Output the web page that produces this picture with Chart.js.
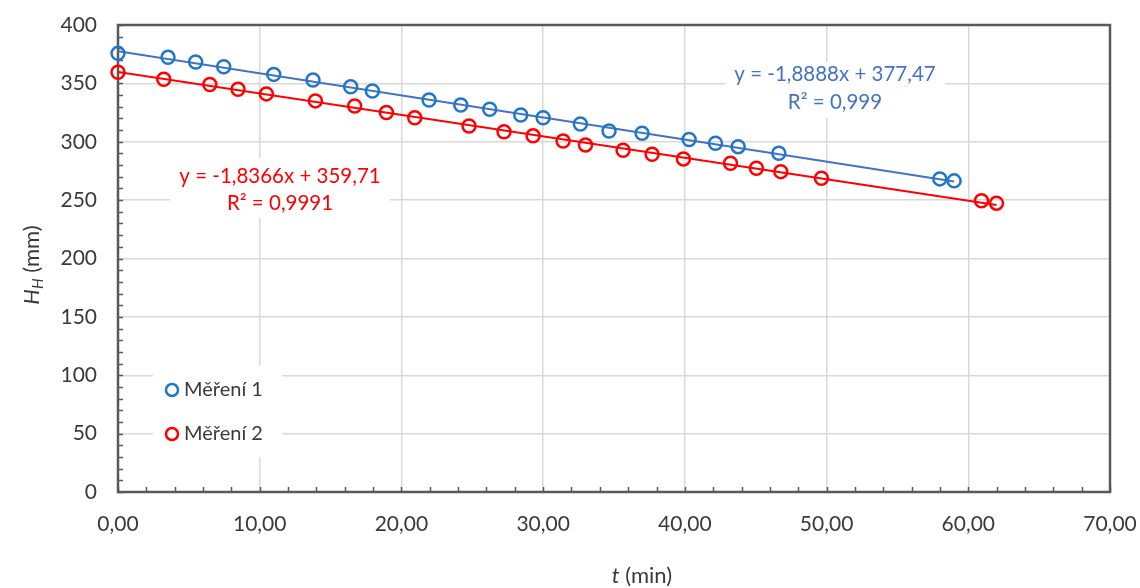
<!DOCTYPE html>
<html>
<head>
<meta charset="utf-8">
<script src="https://cdn.jsdelivr.net/npm/chart.js@4.4.0/dist/chart.umd.min.js"></script>
<style>
  html, body { margin: 0; padding: 0; background: #fff; }
  #wrap { width: 1140px; height: 588px; }
</style>
</head>
<body>
<div id="wrap"><canvas id="chart" width="1140" height="588"></canvas></div>
<script>
// Měření 1 (blue)
const time1 = [0, 3.53, 5.48, 7.46, 10.99, 13.76, 16.42, 17.95, 21.95, 24.19, 26.23, 28.42, 30.0, 32.63, 34.65, 36.98, 40.3, 42.16, 43.76, 46.63, 57.99, 59.0];
const height1 = [375.7, 372.3, 368.3, 364.3, 357.7, 352.9, 347.1, 343.5, 335.8, 331.5, 327.8, 322.9, 320.6, 315.2, 309.2, 307.3, 302.0, 298.7, 295.8, 290.2, 268.2, 266.5];
// Měření 2 (red)
const time2 = [0, 3.23, 6.48, 8.47, 10.47, 13.93, 16.7, 18.94, 20.94, 24.77, 27.24, 29.29, 31.41, 32.99, 35.64, 37.69, 39.9, 43.22, 45.05, 46.77, 49.64, 60.93, 61.99];
const height2 = [359.5, 353.5, 349.0, 345.0, 341.0, 335.0, 330.6, 325.0, 320.6, 313.5, 308.6, 305.2, 300.7, 297.3, 292.7, 289.3, 285.3, 281.6, 277.3, 274.4, 268.8, 249.4, 247.4];
// trendline end points
const trendTime1 = [0, 59.0];
const trendH1 = [377.5, 266.0];
const trendTime2 = [0, 62.0];
const trendH2 = [359.7, 245.8];

const seriesNames = ['Měření 1', 'Měření 2'];
const equations1 = ['y = -1,8888x + 377,47', 'R² = 0,999'];
const equations2 = ['y = -1,8366x + 359,71', 'R² = 0,9991'];

const xTicks = [0, 10, 20, 30, 40, 50, 60, 70];
const yTicks = [0, 50, 100, 150, 200, 250, 300, 350, 400];

const BLUE_MK = '#1f77c9';
const BLUE_LN = '#4472c4';
const RED = '#ff0000';
const TXT = '#3a3a3a';
const FONT = 'Lato, "Open Sans", sans-serif';

function pts(xs, ys) {
  return xs.map((x, i) => ({ x: x, y: ys[i] }));
}

const decor = {
  id: 'decor',
  beforeDatasetsDraw(chart) {
    const { ctx, chartArea: a, scales } = chart;
    const xs = scales.x, ys = scales.y;
    ctx.save();
    // white boxes behind labels and legend
    ctx.fillStyle = '#fff';
    ctx.fillRect(725, 62, 220, 56);
    ctx.fillRect(170, 158, 220, 60);
    ctx.fillRect(153, 365, 129, 92);
    // inner ticks
    ctx.strokeStyle = '#595959';
    ctx.lineWidth = 1.5;
    ctx.beginPath();
    for (let v = 0; v <= 70; v += 2) {
      const px = Math.round(xs.getPixelForValue(v)) + 0.5;
      ctx.moveTo(px, a.bottom);
      ctx.lineTo(px, a.bottom - 5);
    }
    for (let v = 0; v <= 400; v += 10) {
      const py = Math.round(ys.getPixelForValue(v)) + 0.5;
      ctx.moveTo(a.left, py);
      ctx.lineTo(a.left + 5, py);
    }
    ctx.stroke();
    // frame
    ctx.lineWidth = 2.5;
    ctx.strokeStyle = '#595959';
    ctx.strokeRect(a.left, a.top, a.right - a.left, a.bottom - a.top);
    ctx.restore();
  },
  afterDatasetsDraw(chart) {
    const { ctx } = chart;
    ctx.save();
    ctx.font = '20.5px ' + FONT;
    ctx.textAlign = 'center';
    ctx.textBaseline = 'middle';
    ctx.fillStyle = BLUE_LN;
    ctx.fillText(equations1[0], 835, 74);
    ctx.fillText(equations1[1], 835, 102);
    ctx.fillStyle = RED;
    ctx.fillText(equations2[0], 280, 176);
    ctx.fillText(equations2[1], 280, 203);

    // legend
    const leg = [[BLUE_MK, 390], [RED, 434]];
    ctx.textAlign = 'left';
    ctx.font = '20px ' + FONT;
    leg.forEach((l, i) => {
      ctx.beginPath();
      ctx.lineWidth = 2.5;
      ctx.strokeStyle = l[0];
      ctx.arc(172, l[1], 6, 0, Math.PI * 2);
      ctx.stroke();
      ctx.fillStyle = TXT;
      ctx.fillText(seriesNames[i], 184, l[1]);
    });

    // x title
    ctx.fillStyle = TXT;
    ctx.font = 'italic 22px ' + FONT;
    const tW = ctx.measureText('t').width;
    ctx.font = '22px ' + FONT;
    const rW = ctx.measureText(' (min)').width;
    let sx = 642 - (tW + rW) / 2;
    ctx.font = 'italic 22px ' + FONT;
    ctx.fillText('t', sx, 576);
    ctx.font = '22px ' + FONT;
    ctx.fillText(' (min)', sx + tW, 576);

    // y title (rotated)
    ctx.translate(32, 265);
    ctx.rotate(-Math.PI / 2);
    ctx.font = 'italic 22px ' + FONT;
    const hW = ctx.measureText('H').width;
    ctx.font = 'italic 15px ' + FONT;
    const sW = ctx.measureText('H').width;
    ctx.font = '22px ' + FONT;
    const mW = ctx.measureText(' (mm)').width;
    let ox = -(hW + sW + mW) / 2;
    ctx.font = 'italic 22px ' + FONT;
    ctx.fillText('H', ox, 0);
    ctx.font = 'italic 15px ' + FONT;
    ctx.fillText('H', ox + hW, 6);
    ctx.font = '22px ' + FONT;
    ctx.fillText(' (mm)', ox + hW + sW, 0);
    ctx.restore();
  }
};

new Chart(document.getElementById('chart'), {
  type: 'scatter',
  data: {
    datasets: [
      {
        label: seriesNames[0],
        data: pts(time1, height1),
        borderColor: BLUE_MK,
        backgroundColor: 'transparent',
        pointRadius: 6.5,
        pointBorderWidth: 2.5,
        showLine: false,
        clip: false
      },
      {
        label: seriesNames[1],
        data: pts(time2, height2),
        borderColor: RED,
        backgroundColor: 'transparent',
        pointRadius: 6.5,
        pointBorderWidth: 2.5,
        showLine: false,
        clip: false
      },
      {
        label: 'trend1',
        data: pts(trendTime1, trendH1),
        borderColor: BLUE_LN,
        borderWidth: 2,
        pointRadius: 0,
        showLine: true
      },
      {
        label: 'trend2',
        data: pts(trendTime2, trendH2),
        borderColor: RED,
        borderWidth: 2,
        pointRadius: 0,
        showLine: true
      }
    ]
  },
  options: {
    responsive: false,
    animation: false,
    devicePixelRatio: 1,
    layout: { padding: { top: 25, right: 30, bottom: 0, left: 0 } },
    plugins: {
      legend: { display: false },
      tooltip: { enabled: false }
    },
    scales: {
      x: {
        type: 'linear',
        min: 0,
        max: 70,
        afterBuildTicks: (s) => { s.ticks = xTicks.map(v => ({ value: v })); },
        afterFit: (s) => { s.height = 96; s.paddingLeft = 0; s.paddingRight = 0; },
        grid: { color: '#d9d9d9', lineWidth: 1.5, drawTicks: false },
        border: { display: false },
        ticks: {
          padding: 20,
          color: TXT,
          font: { family: FONT, size: 21 },
          maxRotation: 0,
          callback: (v) => v.toFixed(2).replace('.', ',')
        }
      },
      y: {
        type: 'linear',
        min: 0,
        max: 400,
        afterBuildTicks: (s) => { s.ticks = yTicks.map(v => ({ value: v })); },
        afterFit: (s) => { s.width = 118; s.paddingTop = 0; s.paddingBottom = 0; },
        grid: { color: '#d9d9d9', lineWidth: 1.5, drawTicks: false },
        border: { display: false },
        ticks: {
          padding: 21,
          color: TXT,
          font: { family: FONT, size: 21 }
        }
      }
    }
  },
  plugins: [decor]
});
</script>
</body>
</html>
